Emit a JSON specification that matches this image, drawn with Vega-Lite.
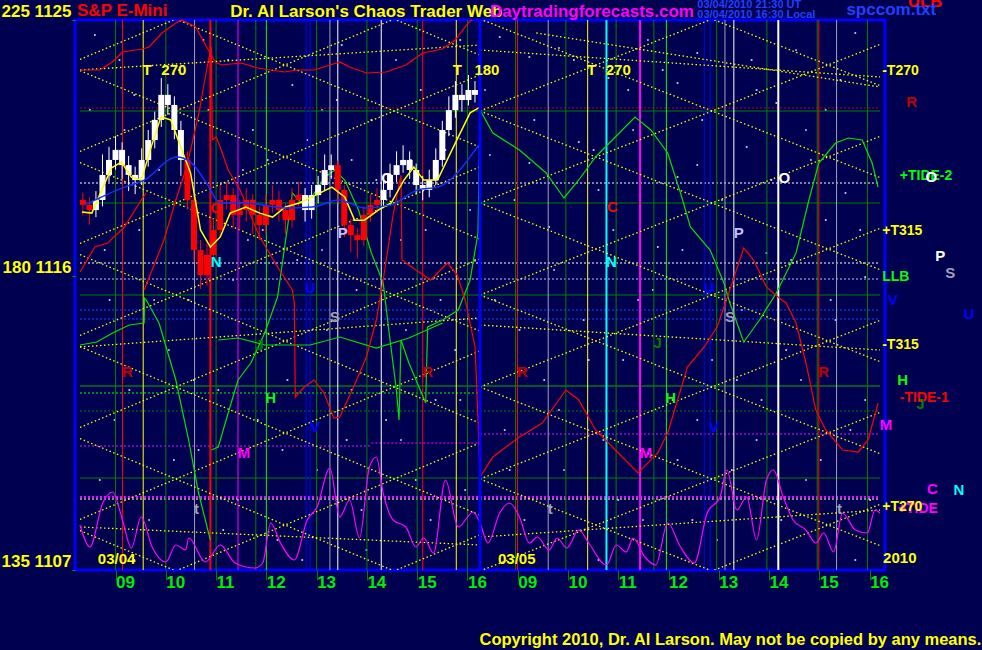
{
"$schema": "https://vega.github.io/schema/vega-lite/v6.json",
"width": 810, "height": 550,
"autosize": {"type": "none"},
"padding": {"left": 75, "top": 20, "right": 97, "bottom": 80},
"background": "#000050",
"config": {"view": {"stroke": "#0000ff", "strokeWidth": 3}, "text": {"font": "Liberation Sans", "fontWeight": "bold"}, "legend": {"disable": true},
 "axisX": {"values": [9,10,11,12,13,14,15,16,16.957,17.957,18.957,19.957,20.957,21.957,22.957,23.957],
    "labelExpr": "(datum.value < 16.5 ? round(datum.value) : round(datum.value - 7.957)) < 10 ? '0' + (datum.value < 16.5 ? round(datum.value) : round(datum.value - 7.957)) : '' + (datum.value < 16.5 ? round(datum.value) : round(datum.value - 7.957))",
    "labelColor": "#00ee00", "labelFont": "Liberation Sans", "labelFontWeight": "bold", "labelFontSize": 17, "labelAlign": "left", "labelBaseline": "top", "labelPadding": -6, "labelDx": 2,
    "tickColor": "#008000", "tickSize": 10, "tickWidth": 1, "domain": false, "grid": false, "labelOverlap": false, "labelFlush": false, "labelBound": false}},
"resolve": {"scale": {"y": "independent"}},
"datasets": {
"stars": [{"t":8.588,"v":535},{"t":9.374,"v":475},{"t":10.749,"v":530},{"t":11.731,"v":440},{"t":12.517,"v":485},{"t":13.499,"v":525},{"t":14.089,"v":450},{"t":15.071,"v":480},{"t":15.857,"v":530},{"t":8.784,"v":320},{"t":9.767,"v":270},{"t":11.338,"v":290},{"t":11.928,"v":340},{"t":13.107,"v":320},{"t":13.696,"v":410},{"t":14.678,"v":330},{"t":15.464,"v":270},{"t":16.053,"v":360},{"t":8.981,"v":150},{"t":10.16,"v":110},{"t":11.142,"v":40},{"t":12.321,"v":120},{"t":12.714,"v":10},{"t":13.892,"v":60},{"t":14.678,"v":130},{"t":15.267,"v":50},{"t":15.857,"v":170},{"t":9.374,"v":10},{"t":10.553,"v":190},{"t":13.696,"v":180},{"t":11.535,"v":400},{"t":9.177,"v":440},{"t":13.107,"v":460},{"t":14.874,"v":410},{"t":16.642,"v":533},{"t":17.232,"v":513},{"t":17.821,"v":522},{"t":18.804,"v":492},{"t":19.197,"v":480},{"t":19.59,"v":530},{"t":20.179,"v":487},{"t":20.572,"v":517},{"t":21.751,"v":480},{"t":22.144,"v":467},{"t":22.536,"v":520},{"t":23.126,"v":460},{"t":23.715,"v":537},{"t":16.446,"v":415},{"t":17.232,"v":407},{"t":18.214,"v":428},{"t":18.607,"v":380},{"t":20.179,"v":393},{"t":20.572,"v":405},{"t":21.554,"v":423},{"t":22.733,"v":440},{"t":23.519,"v":377},{"t":17.625,"v":343},{"t":19.786,"v":323},{"t":21.947,"v":317},{"t":23.126,"v":350},{"t":23.912,"v":293},{"t":17.035,"v":240},{"t":18.411,"v":210},{"t":19.393,"v":270},{"t":20.572,"v":150},{"t":21.358,"v":190},{"t":22.34,"v":220},{"t":23.322,"v":250},{"t":16.839,"v":100},{"t":17.821,"v":160},{"t":19.0,"v":70},{"t":20.179,"v":110},{"t":21.751,"v":130},{"t":22.733,"v":90},{"t":23.715,"v":10},{"t":18.607,"v":10},{"t":20.965,"v":30},{"t":23.912,"v":170},
{"t":8.489,"v":460},{"t":8.686,"v":90},{"t":8.882,"v":270},{"t":9.079,"v":510},{"t":9.275,"v":180},{"t":9.472,"v":340},{"t":9.668,"v":50},{"t":9.865,"v":400},{"t":10.061,"v":220},{"t":10.258,"v":500},{"t":10.454,"v":270},{"t":10.651,"v":120},{"t":10.847,"v":460},{"t":11.044,"v":180},{"t":11.24,"v":510},{"t":11.437,"v":70},{"t":11.633,"v":330},{"t":11.83,"v":150},{"t":12.026,"v":410},{"t":12.222,"v":30},{"t":12.419,"v":190},{"t":12.615,"v":310},{"t":12.812,"v":430},{"t":13.008,"v":100},{"t":13.205,"v":240},{"t":13.401,"v":470},{"t":13.597,"v":130},{"t":13.794,"v":280},{"t":13.99,"v":20},{"t":14.187,"v":390},{"t":14.383,"v":150},{"t":14.58,"v":510},{"t":14.776,"v":240},{"t":14.973,"v":90},{"t":15.169,"v":340},{"t":15.366,"v":170},{"t":15.562,"v":420},{"t":15.758,"v":220},{"t":15.955,"v":80},{"t":16.151,"v":310},
{"t":16.348,"v":480},{"t":16.544,"v":270},{"t":16.741,"v":140},{"t":16.937,"v":370},{"t":17.134,"v":50},{"t":17.33,"v":450},{"t":17.527,"v":190},{"t":17.723,"v":300},{"t":17.92,"v":100},{"t":18.116,"v":510},{"t":18.312,"v":250},{"t":18.509,"v":420},{"t":18.705,"v":130},{"t":18.902,"v":340},{"t":19.098,"v":210},{"t":19.295,"v":440},{"t":19.491,"v":50},{"t":19.688,"v":280},{"t":19.884,"v":500},{"t":20.081,"v":170},{"t":20.277,"v":320},{"t":20.474,"v":50},{"t":20.67,"v":450},{"t":20.866,"v":210},{"t":21.063,"v":370},{"t":21.259,"v":100},{"t":21.456,"v":260},{"t":21.652,"v":510},{"t":21.849,"v":170},{"t":22.045,"v":390},{"t":22.242,"v":50},{"t":22.438,"v":310},{"t":22.635,"v":190},{"t":22.831,"v":410},{"t":23.027,"v":110},{"t":23.224,"v":270},{"t":23.42,"v":490},{"t":23.617,"v":140},{"t":23.813,"v":340},{"t":24.01,"v":70}],
"hsolid": [{"t0":8.293,"t1":24.206,"v":459,"k":"dg"},{"t0":8.293,"t1":24.206,"v":367,"k":"dg"},{"t0":8.293,"t1":24.206,"v":275,"k":"dg"},{"t0":8.293,"t1":24.206,"v":184,"k":"gn"},{"t0":8.293,"t1":24.206,"v":92,"k":"dg"}],
"hdot": [{"t0":8.293,"t1":24.206,"v":462,"k":"dr"},{"t0":8.293,"t1":24.206,"v":387,"k":"wh"},{"t0":8.293,"t1":24.206,"v":307,"k":"wh"},{"t0":8.293,"t1":24.206,"v":291,"k":"lv"},{"t0":8.293,"t1":24.206,"v":260,"k":"bm"},{"t0":8.293,"t1":24.206,"v":251,"k":"bm"},{"t0":8.293,"t1":16.25,"v":177,"k":"bg"},{"t0":8.293,"t1":24.206,"v":159,"k":"dg"},{"t0":8.293,"t1":14.089,"v":124,"k":"mg"},{"t0":14.089,"t1":16.25,"v":127,"k":"mg"},{"t0":16.25,"t1":24.206,"v":136,"k":"mg"},{"t0":8.293,"t1":24.206,"v":71,"k":"wh"}],
"hthick": [{"t0":8.293,"t1":24.206,"v":73,"k":"mg"}],
"verts": [{"t":9,"k":"dg"},{"t":9.138,"k":"rd"},{"t":9.55,"k":"ye"},{"t":10,"k":"dg"},{"t":10.572,"k":"gy"},{"t":11,"k":"dg"},{"t":11.436,"k":"mg"},{"t":11.79,"k":"dg"},{"t":12,"k":"bg"},{"t":12.792,"k":"bl"},{"t":12.871,"k":"bl"},{"t":13,"k":"dg"},{"t":13.264,"k":"gy"},{"t":13.421,"k":"wh"},{"t":14,"k":"dg"},{"t":14.285,"k":"wh"},{"t":15,"k":"dg"},{"t":15.11,"k":"rd"},{"t":15.778,"k":"ye"},{"t":16,"k":"dg"},{"t":16.957,"k":"dg"},{"t":16.996,"k":"rd"},{"t":17.606,"k":"gy"},{"t":17.957,"k":"dg"},{"t":18.391,"k":"ye"},{"t":18.957,"k":"dg"},{"t":19.708,"k":"dg"},{"t":19.957,"k":"bg"},{"t":20.71,"k":"bl"},{"t":20.827,"k":"bl"},{"t":20.957,"k":"dg"},{"t":21.122,"k":"gy"},{"t":21.299,"k":"wh"},{"t":21.957,"k":"dg"},{"t":22.957,"k":"dg"},{"t":22.988,"k":"rd"},{"t":23.342,"k":"gy"},{"t":23.957,"k":"dg"}],
"vthick": [{"t":10.886,"k":"rd"},{"t":18.765,"k":"cy"},{"t":19.433,"k":"mg"},{"t":22.183,"k":"wh"}],
"lattice": [
{"id":"a1","t":8.293,"v":510.6},{"id":"a1","t":16.25,"v":679.2},
{"id":"a2","t":8.293,"v":418.6},{"id":"a2","t":16.25,"v":587.2},
{"id":"a3","t":8.293,"v":326.6},{"id":"a3","t":16.25,"v":495.2},
{"id":"a4","t":8.293,"v":234.6},{"id":"a4","t":16.25,"v":403.2},
{"id":"a5","t":8.293,"v":142.6},{"id":"a5","t":16.25,"v":311.2},
{"id":"a6","t":8.293,"v":50.6},{"id":"a6","t":16.25,"v":219.2},
{"id":"a7","t":8.293,"v":-41.4},{"id":"a7","t":16.25,"v":127.2},
{"id":"a8","t":8.293,"v":-133.4},{"id":"a8","t":16.25,"v":35.2},
{"id":"b0","t":8.293,"v":683.4},{"id":"b0","t":16.25,"v":514.8},
{"id":"b1","t":8.293,"v":591.4},{"id":"b1","t":16.25,"v":422.8},
{"id":"b2","t":8.293,"v":499.4},{"id":"b2","t":16.25,"v":330.8},
{"id":"b3","t":8.293,"v":407.4},{"id":"b3","t":16.25,"v":238.8},
{"id":"b4","t":8.293,"v":315.4},{"id":"b4","t":16.25,"v":146.8},
{"id":"b5","t":8.293,"v":223.4},{"id":"b5","t":16.25,"v":54.8},
{"id":"b6","t":8.293,"v":131.4},{"id":"b6","t":16.25,"v":-37.2},
{"id":"b7","t":8.293,"v":39.4},{"id":"b7","t":16.25,"v":-129.2},
{"id":"c2","t":16.25,"v":459},{"id":"c2","t":24.206,"v":617.6},
{"id":"c3","t":16.25,"v":367},{"id":"c3","t":24.206,"v":525.6},
{"id":"c4","t":16.25,"v":275},{"id":"c4","t":24.206,"v":433.6},
{"id":"c5","t":16.25,"v":183},{"id":"c5","t":24.206,"v":341.6},
{"id":"c6","t":16.25,"v":91},{"id":"c6","t":24.206,"v":249.6},
{"id":"c7","t":16.25,"v":-1},{"id":"c7","t":24.206,"v":157.6},
{"id":"c8","t":16.25,"v":-93},{"id":"c8","t":24.206,"v":65.6},
{"id":"d0","t":16.25,"v":643},{"id":"d0","t":24.206,"v":484.4},
{"id":"d1","t":16.25,"v":551},{"id":"d1","t":24.206,"v":392.4},
{"id":"d2","t":16.25,"v":459},{"id":"d2","t":24.206,"v":300.4},
{"id":"d3","t":16.25,"v":367},{"id":"d3","t":24.206,"v":208.4},
{"id":"d4","t":16.25,"v":275},{"id":"d4","t":24.206,"v":116.4},
{"id":"d5","t":16.25,"v":183},{"id":"d5","t":24.206,"v":24.4},
{"id":"d6","t":16.25,"v":91},{"id":"d6","t":24.206,"v":-67.6},
{"id":"e1","t":8.293,"v":500},{"id":"e1","t":16.25,"v":525},
{"id":"e2","t":16.25,"v":520},{"id":"e2","t":24.206,"v":493},
{"id":"e3","t":17.369,"v":537},{"id":"e3","t":24.206,"v":483},
{"id":"e4","t":8.293,"v":223},{"id":"e4","t":16.25,"v":252},
{"id":"e5","t":16.25,"v":245},{"id":"e5","t":24.206,"v":220},
{"id":"e6","t":8.293,"v":43},{"id":"e6","t":16.25,"v":25},
{"id":"e7","t":16.25,"v":33},{"id":"e7","t":24.206,"v":60}],
"osc": [{"t":8.293,"v":45},{"t":8.489,"v":23},{"t":8.745,"v":67},{"t":8.941,"v":78},{"t":9.138,"v":50},{"t":9.315,"v":22},{"t":9.511,"v":53},{"t":9.727,"v":23},{"t":10.002,"v":8},{"t":10.199,"v":25},{"t":10.395,"v":20},{"t":10.454,"v":32},{"t":10.788,"v":8},{"t":11.083,"v":25},{"t":11.377,"v":7},{"t":11.77,"v":2},{"t":11.928,"v":7},{"t":12.085,"v":47},{"t":12.281,"v":27},{"t":12.556,"v":10},{"t":12.812,"v":50},{"t":13.008,"v":63},{"t":13.263,"v":102},{"t":13.46,"v":53},{"t":13.656,"v":70},{"t":13.853,"v":32},{"t":14.049,"v":103},{"t":14.187,"v":113},{"t":14.324,"v":77},{"t":14.521,"v":50},{"t":14.776,"v":43},{"t":14.973,"v":23},{"t":15.13,"v":32},{"t":15.326,"v":17},{"t":15.562,"v":90},{"t":15.817,"v":43},{"t":16.112,"v":58},
{"t":16.25,"v":47},{"t":16.407,"v":27},{"t":16.642,"v":57},{"t":16.839,"v":67},{"t":17.035,"v":53},{"t":17.232,"v":27},{"t":17.389,"v":33},{"t":17.625,"v":20},{"t":17.782,"v":32},{"t":17.978,"v":22},{"t":18.214,"v":40},{"t":18.411,"v":27},{"t":18.765,"v":5},{"t":18.961,"v":25},{"t":19.157,"v":18},{"t":19.295,"v":32},{"t":19.53,"v":13},{"t":19.747,"v":5},{"t":19.983,"v":47},{"t":20.238,"v":23},{"t":20.513,"v":7},{"t":20.768,"v":57},{"t":21.024,"v":73},{"t":21.161,"v":100},{"t":21.358,"v":60},{"t":21.554,"v":73},{"t":21.751,"v":30},{"t":21.947,"v":90},{"t":22.084,"v":100},{"t":22.281,"v":73},{"t":22.477,"v":50},{"t":22.733,"v":40},{"t":22.929,"v":27},{"t":23.086,"v":37},{"t":23.283,"v":18},{"t":23.46,"v":57},{"t":23.715,"v":40},{"t":23.951,"v":37},{"t":24.108,"v":60},{"t":24.206,"v":57}],
"green": [
{"id":"G1","t":8.293,"v":225},{"id":"G1","t":8.627,"v":228},{"id":"G1","t":8.941,"v":237},{"id":"G1","t":9.275,"v":245},{"id":"G1","t":9.57,"v":247},{"id":"G1","t":9.575,"v":272},{"id":"G1","t":9.609,"v":270},{"id":"G1","t":9.865,"v":247},{"id":"G1","t":10.199,"v":190},{"id":"G1","t":10.454,"v":130},{"id":"G1","t":10.651,"v":77},{"id":"G1","t":10.886,"v":30},
{"id":"G2","t":10.906,"v":120},{"id":"G2","t":11.044,"v":123},{"id":"G2","t":11.24,"v":157},{"id":"G2","t":11.437,"v":190},{"id":"G2","t":11.692,"v":207},{"id":"G2","t":11.967,"v":237},{"id":"G2","t":12.222,"v":273},{"id":"G2","t":12.517,"v":377},{"id":"G2","t":12.772,"v":363},{"id":"G2","t":13.165,"v":393},{"id":"G2","t":13.362,"v":400},{"id":"G2","t":13.558,"v":390},{"id":"G2","t":13.833,"v":360},{"id":"G2","t":14.089,"v":317},{"id":"G2","t":14.324,"v":287},{"id":"G2","t":14.442,"v":237},{"id":"G2","t":14.58,"v":183},{"id":"G2","t":14.639,"v":150},{"id":"G2","t":14.678,"v":230},{"id":"G2","t":14.835,"v":207},{"id":"G2","t":15.169,"v":167},{"id":"G2","t":15.208,"v":243},{"id":"G2","t":15.503,"v":250},{"id":"G2","t":15.817,"v":260},{"id":"G2","t":16.053,"v":290},{"id":"G2","t":16.21,"v":337},{"id":"G2","t":16.25,"v":460},{"id":"G2","t":16.505,"v":437},{"id":"G2","t":17.035,"v":420},{"id":"G2","t":17.566,"v":397},{"id":"G2","t":17.92,"v":372},{"id":"G2","t":18.214,"v":390},{"id":"G2","t":18.548,"v":413},{"id":"G2","t":18.941,"v":433},{"id":"G2","t":19.334,"v":453},{"id":"G2","t":19.648,"v":440},{"id":"G2","t":19.983,"v":417},{"id":"G2","t":20.238,"v":377},{"id":"G2","t":20.434,"v":343},{"id":"G2","t":20.827,"v":320},{"id":"G2","t":21.102,"v":287},{"id":"G2","t":21.22,"v":267},{"id":"G2","t":21.495,"v":228},{"id":"G2","t":21.809,"v":250},{"id":"G2","t":22.144,"v":277},{"id":"G2","t":22.536,"v":317},{"id":"G2","t":22.792,"v":370},{"id":"G2","t":22.988,"v":407},{"id":"G2","t":23.322,"v":427},{"id":"G2","t":23.578,"v":432},{"id":"G2","t":23.853,"v":430},{"id":"G2","t":24.049,"v":407},{"id":"G2","t":24.167,"v":383},
{"id":"G3","t":11.044,"v":230},{"id":"G3","t":11.437,"v":232},{"id":"G3","t":11.967,"v":225},{"id":"G3","t":12.36,"v":225},{"id":"G3","t":12.871,"v":225},{"id":"G3","t":13.46,"v":233},{"id":"G3","t":14.187,"v":222},{"id":"G3","t":14.835,"v":232},{"id":"G3","t":15.503,"v":247}],
"red": [
{"id":"R1","t":8.293,"v":500},{"id":"R1","t":8.686,"v":500},{"id":"R1","t":8.941,"v":508},{"id":"R1","t":9.138,"v":518},{"id":"R1","t":9.531,"v":521},{"id":"R1","t":9.668,"v":523},{"id":"R1","t":9.924,"v":537},{"id":"R1","t":10.199,"v":547},{"id":"R1","t":10.317,"v":550},{"id":"R1","t":10.592,"v":543},{"id":"R1","t":10.847,"v":520},{"id":"R1","t":10.985,"v":508},{"id":"R1","t":11.102,"v":505},{"id":"R1","t":11.495,"v":507},{"id":"R1","t":11.829,"v":502},{"id":"R1","t":12.085,"v":500},{"id":"R1","t":12.36,"v":498},{"id":"R1","t":12.615,"v":500},{"id":"R1","t":12.949,"v":500},{"id":"R1","t":13.263,"v":505},{"id":"R1","t":13.46,"v":508},{"id":"R1","t":13.656,"v":503},{"id":"R1","t":13.99,"v":497},{"id":"R1","t":14.383,"v":498},{"id":"R1","t":14.776,"v":505},{"id":"R1","t":15.11,"v":517},{"id":"R1","t":15.503,"v":521},{"id":"R1","t":15.758,"v":530},{"id":"R1","t":16.014,"v":547},{"id":"R1","t":16.092,"v":550},
{"id":"R2","t":8.293,"v":298},{"id":"R2","t":8.588,"v":323},{"id":"R2","t":8.843,"v":327},{"id":"R2","t":9.177,"v":343},{"id":"R2","t":9.511,"v":370},{"id":"R2","t":9.609,"v":377},
{"id":"R3","t":9.57,"v":280},{"id":"R3","t":9.767,"v":305},{"id":"R3","t":9.963,"v":330},{"id":"R3","t":10.199,"v":370},{"id":"R3","t":10.415,"v":403},{"id":"R3","t":10.651,"v":455},{"id":"R3","t":10.847,"v":510},{"id":"R3","t":10.906,"v":523},{"id":"R3","t":10.926,"v":430},{"id":"R3","t":11.004,"v":433},{"id":"R3","t":11.102,"v":420},{"id":"R3","t":11.24,"v":400},{"id":"R3","t":11.476,"v":380},{"id":"R3","t":11.869,"v":333},{"id":"R3","t":12.261,"v":300},{"id":"R3","t":12.517,"v":280},{"id":"R3","t":12.556,"v":267},{"id":"R3","t":12.576,"v":173},{"id":"R3","t":12.753,"v":183},{"id":"R3","t":12.949,"v":190},{"id":"R3","t":13.146,"v":177},{"id":"R3","t":13.342,"v":152},{"id":"R3","t":13.46,"v":153},{"id":"R3","t":13.735,"v":183},{"id":"R3","t":13.99,"v":213},{"id":"R3","t":14.187,"v":250},{"id":"R3","t":14.324,"v":290},{"id":"R3","t":14.521,"v":355},{"id":"R3","t":14.678,"v":395},{"id":"R3","t":14.698,"v":310},{"id":"R3","t":14.973,"v":300},{"id":"R3","t":15.267,"v":290},{"id":"R3","t":15.601,"v":307},{"id":"R3","t":15.798,"v":295},{"id":"R3","t":15.955,"v":270},{"id":"R3","t":16.151,"v":223},{"id":"R3","t":16.21,"v":150},{"id":"R3","t":16.25,"v":93},{"id":"R3","t":16.505,"v":113},{"id":"R3","t":17.035,"v":133},{"id":"R3","t":17.487,"v":147},{"id":"R3","t":17.959,"v":180},{"id":"R3","t":18.214,"v":170},{"id":"R3","t":18.548,"v":140},{"id":"R3","t":19.0,"v":117},{"id":"R3","t":19.393,"v":97},{"id":"R3","t":19.786,"v":117},{"id":"R3","t":19.983,"v":137},{"id":"R3","t":20.179,"v":170},{"id":"R3","t":20.375,"v":203},{"id":"R3","t":20.709,"v":223},{"id":"R3","t":20.965,"v":243},{"id":"R3","t":21.22,"v":280},{"id":"R3","t":21.495,"v":322},{"id":"R3","t":21.692,"v":310},{"id":"R3","t":21.947,"v":283},{"id":"R3","t":22.202,"v":272},{"id":"R3","t":22.34,"v":267},{"id":"R3","t":22.536,"v":247},{"id":"R3","t":22.733,"v":207},{"id":"R3","t":22.929,"v":160},{"id":"R3","t":23.126,"v":140},{"id":"R3","t":23.46,"v":120},{"id":"R3","t":23.774,"v":118},{"id":"R3","t":23.97,"v":130},{"id":"R3","t":24.167,"v":167}],
"candles": [
{"t":8.35,"o":1119.11,"c":1118.95,"h":1119.35,"l":1118.6,"k":"rd"},
{"t":8.48,"o":1118.95,"c":1118.78,"h":1119.2,"l":1118.3,"k":"rd"},
{"t":8.61,"o":1118.78,"c":1119.11,"h":1119.4,"l":1118.55,"k":"wh"},
{"t":8.74,"o":1119.11,"c":1119.93,"h":1120.6,"l":1118.9,"k":"wh"},
{"t":8.87,"o":1119.93,"c":1120.42,"h":1120.85,"l":1119.7,"k":"wh"},
{"t":9.0,"o":1120.42,"c":1120.75,"h":1121.2,"l":1120.1,"k":"wh"},
{"t":9.13,"o":1120.75,"c":1120.25,"h":1121.0,"l":1119.8,"k":"wh"},
{"t":9.26,"o":1120.25,"c":1119.93,"h":1120.55,"l":1119.4,"k":"wh"},
{"t":9.39,"o":1119.93,"c":1119.76,"h":1120.2,"l":1119.3,"k":"wh"},
{"t":9.52,"o":1119.76,"c":1120.42,"h":1120.8,"l":1119.6,"k":"wh"},
{"t":9.65,"o":1120.42,"c":1121.07,"h":1121.4,"l":1120.2,"k":"wh"},
{"t":9.78,"o":1121.07,"c":1121.73,"h":1122.0,"l":1120.8,"k":"wh"},
{"t":9.91,"o":1121.73,"c":1122.55,"h":1123.1,"l":1121.5,"k":"wh"},
{"t":10.04,"o":1122.55,"c":1122.22,"h":1122.9,"l":1121.9,"k":"wh"},
{"t":10.17,"o":1122.22,"c":1121.4,"h":1122.5,"l":1121.1,"k":"wh"},
{"t":10.3,"o":1121.4,"c":1120.42,"h":1121.7,"l":1119.9,"k":"wh"},
{"t":10.43,"o":1120.42,"c":1119.11,"h":1120.7,"l":1118.8,"k":"rd"},
{"t":10.56,"o":1119.11,"c":1117.47,"h":1119.4,"l":1117.1,"k":"rd"},
{"t":10.69,"o":1117.47,"c":1116.65,"h":1117.8,"l":1116.2,"k":"rd"},
{"t":10.82,"o":1116.65,"c":1117.31,"h":1117.7,"l":1116.3,"k":"rd"},
{"t":10.95,"o":1117.31,"c":1118.13,"h":1118.5,"l":1117.0,"k":"rd"},
{"t":11.08,"o":1118.13,"c":1119.11,"h":1119.6,"l":1117.9,"k":"rd"},
{"t":11.21,"o":1119.11,"c":1119.27,"h":1119.7,"l":1118.8,"k":"rd"},
{"t":11.34,"o":1119.27,"c":1118.62,"h":1119.5,"l":1118.2,"k":"rd"},
{"t":11.47,"o":1118.62,"c":1118.78,"h":1119.1,"l":1118.1,"k":"rd"},
{"t":11.6,"o":1118.78,"c":1119.11,"h":1119.5,"l":1118.4,"k":"rd"},
{"t":11.73,"o":1119.11,"c":1118.62,"h":1119.3,"l":1118.0,"k":"rd"},
{"t":11.86,"o":1118.62,"c":1118.29,"h":1118.9,"l":1117.8,"k":"rd"},
{"t":11.99,"o":1118.29,"c":1118.95,"h":1119.3,"l":1118.0,"k":"rd"},
{"t":12.12,"o":1118.95,"c":1119.11,"h":1119.6,"l":1118.7,"k":"rd"},
{"t":12.25,"o":1119.11,"c":1118.78,"h":1119.4,"l":1118.4,"k":"rd"},
{"t":12.38,"o":1118.78,"c":1118.45,"h":1119.0,"l":1118.0,"k":"rd"},
{"t":12.51,"o":1118.45,"c":1119.11,"h":1119.5,"l":1118.2,"k":"rd"},
{"t":12.64,"o":1119.11,"c":1119.27,"h":1119.7,"l":1118.9,"k":"rd"},
{"t":12.77,"o":1119.27,"c":1118.78,"h":1119.5,"l":1118.4,"k":"wh"},
{"t":12.9,"o":1118.78,"c":1119.27,"h":1119.6,"l":1118.5,"k":"wh"},
{"t":13.03,"o":1119.27,"c":1119.6,"h":1119.9,"l":1119.0,"k":"wh"},
{"t":13.16,"o":1119.6,"c":1120.09,"h":1120.6,"l":1119.4,"k":"wh"},
{"t":13.29,"o":1120.09,"c":1120.25,"h":1120.6,"l":1119.8,"k":"wh"},
{"t":13.42,"o":1120.25,"c":1119.44,"h":1120.4,"l":1119.0,"k":"rd"},
{"t":13.55,"o":1119.44,"c":1118.29,"h":1119.6,"l":1117.9,"k":"rd"},
{"t":13.68,"o":1118.29,"c":1117.96,"h":1118.5,"l":1117.4,"k":"rd"},
{"t":13.81,"o":1117.96,"c":1117.8,"h":1118.2,"l":1117.2,"k":"rd"},
{"t":13.94,"o":1117.8,"c":1118.62,"h":1118.9,"l":1117.6,"k":"rd"},
{"t":14.07,"o":1118.62,"c":1118.95,"h":1119.3,"l":1118.4,"k":"rd"},
{"t":14.2,"o":1118.95,"c":1119.11,"h":1119.5,"l":1118.7,"k":"rd"},
{"t":14.33,"o":1119.11,"c":1119.44,"h":1119.8,"l":1118.9,"k":"wh"},
{"t":14.46,"o":1119.44,"c":1119.93,"h":1120.3,"l":1119.2,"k":"wh"},
{"t":14.59,"o":1119.93,"c":1120.25,"h":1120.7,"l":1119.7,"k":"wh"},
{"t":14.72,"o":1120.25,"c":1120.42,"h":1120.9,"l":1120.0,"k":"wh"},
{"t":14.85,"o":1120.42,"c":1120.09,"h":1120.7,"l":1119.8,"k":"wh"},
{"t":14.98,"o":1120.09,"c":1119.6,"h":1120.3,"l":1119.3,"k":"wh"},
{"t":15.11,"o":1119.6,"c":1119.44,"h":1119.9,"l":1119.1,"k":"wh"},
{"t":15.24,"o":1119.44,"c":1119.76,"h":1120.1,"l":1119.2,"k":"wh"},
{"t":15.37,"o":1119.76,"c":1120.42,"h":1120.8,"l":1119.6,"k":"wh"},
{"t":15.5,"o":1120.42,"c":1121.4,"h":1121.7,"l":1120.2,"k":"wh"},
{"t":15.63,"o":1121.4,"c":1122.05,"h":1122.5,"l":1121.2,"k":"wh"},
{"t":15.76,"o":1122.05,"c":1122.55,"h":1123.0,"l":1121.8,"k":"wh"},
{"t":15.89,"o":1122.55,"c":1122.38,"h":1122.9,"l":1122.0,"k":"wh"},
{"t":16.02,"o":1122.38,"c":1122.71,"h":1123.2,"l":1122.2,"k":"wh"},
{"t":16.15,"o":1122.71,"c":1122.55,"h":1123.0,"l":1122.3,"k":"wh"}],
"maY": [{"t":8.332,"p":1118.72},{"t":8.529,"p":1118.68},{"t":8.725,"p":1119.44},{"t":8.922,"p":1120.16},{"t":9.118,"p":1120.35},{"t":9.315,"p":1119.86},{"t":9.511,"p":1119.76},{"t":9.708,"p":1120.84},{"t":9.904,"p":1121.83},{"t":10.1,"p":1121.73},{"t":10.297,"p":1120.84},{"t":10.493,"p":1119.99},{"t":10.69,"p":1118.13},{"t":10.886,"p":1117.57},{"t":11.083,"p":1117.9},{"t":11.279,"p":1118.68},{"t":11.593,"p":1118.88},{"t":11.869,"p":1118.68},{"t":12.124,"p":1118.55},{"t":12.379,"p":1118.88},{"t":12.654,"p":1119.01},{"t":12.91,"p":1119.21},{"t":13.303,"p":1119.53},{"t":13.558,"p":1119.21},{"t":13.755,"p":1118.45},{"t":13.951,"p":1118.45},{"t":14.226,"p":1118.78},{"t":14.481,"p":1119.01},{"t":14.737,"p":1119.76},{"t":14.933,"p":1120.19},{"t":15.13,"p":1119.76},{"t":15.405,"p":1119.76},{"t":15.719,"p":1120.84},{"t":16.053,"p":1121.96},{"t":16.25,"p":1122.15}],
"maB": [{"t":8.391,"p":1118.95},{"t":9.177,"p":1119.53},{"t":9.57,"p":1119.76},{"t":10.218,"p":1120.52},{"t":10.493,"p":1120.35},{"t":10.808,"p":1119.67},{"t":11.083,"p":1119.01},{"t":11.593,"p":1119.01},{"t":12.379,"p":1118.85},{"t":12.91,"p":1118.88},{"t":13.44,"p":1119.11},{"t":13.951,"p":1118.85},{"t":14.481,"p":1118.95},{"t":15.012,"p":1119.44},{"t":15.405,"p":1119.53},{"t":16.25,"p":1120.97}],
"letters": [{"t":9.629,"v":500,"s":"T","k":"ye"},{"t":10.16,"v":500,"s":"270","k":"ye"},{"t":15.798,"v":500,"s":"T","k":"ye"},{"t":16.387,"v":500,"s":"180","k":"ye"},{"t":18.47,"v":500,"s":"T","k":"ye"},{"t":19.0,"v":500,"s":"270","k":"ye"},{"t":11.004,"v":362,"s":"O","k":"rd"},{"t":11.004,"v":308,"s":"N","k":"cy"},{"t":13.519,"v":337,"s":"P","k":"lv"},{"t":14.403,"v":392,"s":"O","k":"wh"},{"t":12.871,"v":282,"s":"U","k":"bl"},{"t":13.362,"v":253,"s":"S","k":"gy"},{"t":9.236,"v":198,"s":"R","k":"dr"},{"t":15.208,"v":198,"s":"R","k":"dr"},{"t":12.085,"v":172,"s":"H","k":"bg"},{"t":12.969,"v":143,"s":"V","k":"bl"},{"t":11.554,"v":117,"s":"M","k":"mg"},{"t":11.869,"v":225,"s":"J","k":"dg"},{"t":10.611,"v":61,"s":"t","k":"gy"},{"t":18.882,"v":363,"s":"C","k":"rd"},{"t":18.862,"v":308,"s":"N","k":"cy"},{"t":20.807,"v":282,"s":"U","k":"bl"},{"t":21.397,"v":337,"s":"P","k":"lv"},{"t":22.301,"v":392,"s":"O","k":"wh"},{"t":21.22,"v":253,"s":"S","k":"gy"},{"t":19.786,"v":227,"s":"J","k":"dg"},{"t":17.094,"v":198,"s":"R","k":"dr"},{"t":23.086,"v":198,"s":"R","k":"dr"},{"t":20.041,"v":172,"s":"H","k":"bg"},{"t":20.906,"v":143,"s":"V","k":"bl"},{"t":19.55,"v":117,"s":"M","k":"mg"},{"t":17.645,"v":61,"s":"t","k":"gy"},{"t":23.401,"v":61,"s":"t","k":"gy"},{"t":24.835,"v":468,"s":"R","k":"dr"},{"t":25.405,"v":314,"s":"P","k":"wh"},{"t":25.601,"v":297,"s":"S","k":"gy"},{"t":24.462,"v":270,"s":"V","k":"bl"},{"t":25.974,"v":256,"s":"U","k":"bl"},{"t":24.658,"v":190,"s":"H","k":"bg"},{"t":25.012,"v":166,"s":"J","k":"dg"},{"t":24.324,"v":145,"s":"M","k":"mg"},{"t":25.247,"v":81,"s":"C","k":"mg"},{"t":25.778,"v":80,"s":"N","k":"cy"}],
"rlabels": [{"t":24.25,"v":499,"s":"-T270","k":"ye"},{"t":24.6,"v":394,"s":"+TIDE-2","k":"bg"},{"t":24.25,"v":339,"s":"+T315","k":"ye"},{"t":24.25,"v":293,"s":"LLB","k":"bg"},{"t":24.25,"v":225,"s":"-T315","k":"ye"},{"t":24.6,"v":172,"s":"-TIDE-1","k":"rd"},{"t":24.56,"v":61,"s":"+TIDE","k":"mg"},{"t":24.25,"v":63,"s":"+T270","k":"ye"}],
"toplabels": [{"t":25.227,"v":393,"s":"O","k":"wh"}],
"dates": [{"t":9.02,"v":11,"s":"03/04"},{"t":16.98,"v":11,"s":"03/05"},{"t":24.6,"v":12,"s":"2010"}],
"titles": [{"t":8.234,"v":559,"s":"S&P E-Mini","k":"rd"},{"t":11.28,"v":558,"s":"Dr. Al Larson's Chaos Trader Web","k":"ye"},{"t":16.446,"v":558,"s":"Daytradingforecasts.com","k":"mg"},{"t":24.756,"v":568,"s":"ULB","k":"rd"}],
"small": [{"t":20.572,"v":565,"s":"03/04/2010 21:30 UT"},{"t":20.572,"v":555,"s":"03/04/2010 16:30 Local"}],
"spc": [{"t":23.538,"v":560,"s":"spccom.txt"}],
"copy": [{"t":16.24,"v":-70,"s":"Copyright 2010, Dr. Al Larson. May not be copied by any means."}]
},
"layer": [
{"data": {"name": "stars"}, "mark": {"type": "point", "shape": "square", "filled": true, "size": 3, "color": "#ffffff", "opacity": 0.85},
 "encoding": {"x": {"field": "t", "type": "quantitative", "title": null, "scale": {"domain": [8.293, 24.206], "nice": false, "zero": false}},
  "y": {"field": "v", "type": "quantitative", "scale": {"domain": [0, 550], "nice": false, "zero": false}, "axis": null}}},
{"data": {"name": "hsolid"}, "mark": {"type": "rule", "strokeWidth": 1},
 "encoding": {"x": {"field": "t0", "type": "quantitative", "title": null, "scale": {"domain": [8.293, 24.206], "nice": false, "zero": false}}, "x2": {"field": "t1"},
  "y": {"field": "v", "type": "quantitative", "scale": {"domain": [0, 550], "nice": false, "zero": false}, "axis": null},
  "color": {"field": "k", "type": "nominal", "scale": {"domain": ["dg","bg","gn","rd","dr","gy","wh","ye","mg","cy","bl","lv","bm"], "range": ["#008000","#00ff00","#00b000","#ff0000","#c00000","#a0a0b8","#ffffff","#ffff00","#ff00ff","#00ffff","#0000ff","#c0c0ff","#2040ff"]}, "legend": null}}},
{"data": {"name": "hdot"}, "mark": {"type": "rule", "strokeWidth": 1, "strokeDash": [2, 2]},
 "encoding": {"x": {"field": "t0", "type": "quantitative", "title": null, "scale": {"domain": [8.293, 24.206], "nice": false, "zero": false}}, "x2": {"field": "t1"},
  "y": {"field": "v", "type": "quantitative", "scale": {"domain": [0, 550], "nice": false, "zero": false}, "axis": null},
  "color": {"field": "k", "type": "nominal", "scale": {"domain": ["dg","bg","gn","rd","dr","gy","wh","ye","mg","cy","bl","lv","bm"], "range": ["#008000","#00ff00","#00b000","#ff0000","#c00000","#a0a0b8","#ffffff","#ffff00","#ff00ff","#00ffff","#0000ff","#c0c0ff","#2040ff"]}, "legend": null}}},
{"data": {"name": "hthick"}, "mark": {"type": "rule", "strokeWidth": 2, "strokeDash": [2, 2]},
 "encoding": {"x": {"field": "t0", "type": "quantitative", "title": null, "scale": {"domain": [8.293, 24.206], "nice": false, "zero": false}}, "x2": {"field": "t1"},
  "y": {"field": "v", "type": "quantitative", "scale": {"domain": [0, 550], "nice": false, "zero": false}, "axis": null},
  "color": {"field": "k", "type": "nominal", "scale": {"domain": ["dg","bg","gn","rd","dr","gy","wh","ye","mg","cy","bl","lv","bm"], "range": ["#008000","#00ff00","#00b000","#ff0000","#c00000","#a0a0b8","#ffffff","#ffff00","#ff00ff","#00ffff","#0000ff","#c0c0ff","#2040ff"]}, "legend": null}}},
{"data": {"name": "verts"}, "mark": {"type": "rule", "strokeWidth": 1},
 "encoding": {"x": {"field": "t", "type": "quantitative", "title": null, "scale": {"domain": [8.293, 24.206], "nice": false, "zero": false}},
  "color": {"field": "k", "type": "nominal", "scale": {"domain": ["dg","bg","gn","rd","dr","gy","wh","ye","mg","cy","bl","lv","bm"], "range": ["#008000","#00ff00","#00b000","#ff0000","#c00000","#a0a0b8","#ffffff","#ffff00","#ff00ff","#00ffff","#0000ff","#c0c0ff","#2040ff"]}, "legend": null}}},
{"data": {"name": "vthick"}, "mark": {"type": "rule", "strokeWidth": 2},
 "encoding": {"x": {"field": "t", "type": "quantitative", "title": null, "scale": {"domain": [8.293, 24.206], "nice": false, "zero": false}},
  "color": {"field": "k", "type": "nominal", "scale": {"domain": ["dg","bg","gn","rd","dr","gy","wh","ye","mg","cy","bl","lv","bm"], "range": ["#008000","#00ff00","#00b000","#ff0000","#c00000","#a0a0b8","#ffffff","#ffff00","#ff00ff","#00ffff","#0000ff","#c0c0ff","#2040ff"]}, "legend": null}}},
{"data": {"name": "lattice"}, "mark": {"type": "line", "color": "#ffff00", "strokeWidth": 1.3, "strokeDash": [1.5, 2.5], "clip": true},
 "encoding": {"x": {"field": "t", "type": "quantitative", "title": null, "scale": {"domain": [8.293, 24.206], "nice": false, "zero": false}},
  "y": {"field": "v", "type": "quantitative", "scale": {"domain": [0, 550], "nice": false, "zero": false}, "axis": null},
  "detail": {"field": "id", "type": "nominal"}}},
{"data": {"name": "osc"}, "mark": {"type": "line", "color": "#ff00ff", "strokeWidth": 1.2, "interpolate": "monotone"},
 "encoding": {"x": {"field": "t", "type": "quantitative", "title": null, "scale": {"domain": [8.293, 24.206], "nice": false, "zero": false}},
  "y": {"field": "v", "type": "quantitative", "scale": {"domain": [0, 550], "nice": false, "zero": false}, "axis": null}}},
{"data": {"name": "green"}, "mark": {"type": "line", "color": "#00e000", "strokeWidth": 1.2},
 "encoding": {"x": {"field": "t", "type": "quantitative", "title": null, "scale": {"domain": [8.293, 24.206], "nice": false, "zero": false}},
  "y": {"field": "v", "type": "quantitative", "scale": {"domain": [0, 550], "nice": false, "zero": false}, "axis": null},
  "detail": {"field": "id", "type": "nominal"}}},
{"data": {"name": "red"}, "mark": {"type": "line", "color": "#ff0000", "strokeWidth": 1.2},
 "encoding": {"x": {"field": "t", "type": "quantitative", "title": null, "scale": {"domain": [8.293, 24.206], "nice": false, "zero": false}},
  "y": {"field": "v", "type": "quantitative", "scale": {"domain": [0, 550], "nice": false, "zero": false}, "axis": null},
  "detail": {"field": "id", "type": "nominal"}}},
{"data": {"name": "candles"}, "mark": {"type": "rule", "strokeWidth": 1},
 "encoding": {"x": {"field": "t", "type": "quantitative", "title": null, "scale": {"domain": [8.293, 24.206], "nice": false, "zero": false}},
  "y": {"field": "l", "type": "quantitative", "scale": {"domain": [1107, 1125], "nice": false, "zero": false},
   "axis": {"values": [1107, 1116.62, 1125], "labelExpr": "datum.value > 1124 ? '225 1125' : datum.value < 1108 ? '135 1107' : '180 1116'", "labelColor": "#ffff00", "labelFont": "Liberation Sans", "labelFontWeight": "bold", "labelFontSize": 17, "labelBaseline": "bottom", "labelPadding": 1, "tickColor": "#00a000", "tickSize": 3, "domain": false, "grid": false, "title": null, "labelFlush": false, "labelOverlap": false, "labelBound": false}},
  "y2": {"field": "h"},
  "color": {"field": "k", "type": "nominal", "scale": {"domain": ["dg","bg","gn","rd","dr","gy","wh","ye","mg","cy","bl","lv","bm"], "range": ["#008000","#00ff00","#00b000","#ff0000","#c00000","#a0a0b8","#ffffff","#ffff00","#ff00ff","#00ffff","#0000ff","#c0c0ff","#2040ff"]}, "legend": null}}},
{"data": {"name": "candles"}, "mark": {"type": "bar", "size": 6},
 "encoding": {"x": {"field": "t", "type": "quantitative", "title": null, "scale": {"domain": [8.293, 24.206], "nice": false, "zero": false}},
  "y": {"field": "o", "type": "quantitative", "scale": {"domain": [1107, 1125], "nice": false, "zero": false}, "axis": null},
  "y2": {"field": "c"},
  "color": {"field": "k", "type": "nominal", "scale": {"domain": ["dg","bg","gn","rd","dr","gy","wh","ye","mg","cy","bl","lv","bm"], "range": ["#008000","#00ff00","#00b000","#ff0000","#c00000","#a0a0b8","#ffffff","#ffff00","#ff00ff","#00ffff","#0000ff","#c0c0ff","#2040ff"]}, "legend": null}}},
{"data": {"name": "maY"}, "mark": {"type": "line", "color": "#ffff00", "strokeWidth": 1.5},
 "encoding": {"x": {"field": "t", "type": "quantitative", "title": null, "scale": {"domain": [8.293, 24.206], "nice": false, "zero": false}},
  "y": {"field": "p", "type": "quantitative", "scale": {"domain": [1107, 1125], "nice": false, "zero": false}, "axis": null}}},
{"data": {"name": "maB"}, "mark": {"type": "line", "color": "#1030ff", "strokeWidth": 1.5, "interpolate": "monotone"},
 "encoding": {"x": {"field": "t", "type": "quantitative", "title": null, "scale": {"domain": [8.293, 24.206], "nice": false, "zero": false}},
  "y": {"field": "p", "type": "quantitative", "scale": {"domain": [1107, 1125], "nice": false, "zero": false}, "axis": null}}},
{"data": {"values": [{"t": 16.25}]}, "mark": {"type": "rule", "color": "#0000ff", "strokeWidth": 3},
 "encoding": {"x": {"field": "t", "type": "quantitative", "title": null, "scale": {"domain": [8.293, 24.206], "nice": false, "zero": false}}}},
{"data": {"name": "rlabels"}, "mark": {"type": "text", "fontSize": 14, "fontWeight": "bold", "align": "left", "baseline": "middle"},
 "encoding": {"x": {"field": "t", "type": "quantitative", "title": null, "scale": {"domain": [8.293, 24.206], "nice": false, "zero": false}},
  "y": {"field": "v", "type": "quantitative", "scale": {"domain": [0, 550], "nice": false, "zero": false}, "axis": null},
  "text": {"field": "s"},
  "color": {"field": "k", "type": "nominal", "scale": {"domain": ["dg","bg","gn","rd","dr","gy","wh","ye","mg","cy","bl","lv","bm"], "range": ["#008000","#00ff00","#00b000","#ff0000","#c00000","#a0a0b8","#ffffff","#ffff00","#ff00ff","#00ffff","#0000ff","#c0c0ff","#2040ff"]}, "legend": null}}},
{"data": {"name": "letters"}, "mark": {"type": "text", "fontSize": 15, "fontWeight": "bold", "align": "center", "baseline": "middle"},
 "encoding": {"x": {"field": "t", "type": "quantitative", "title": null, "scale": {"domain": [8.293, 24.206], "nice": false, "zero": false}},
  "y": {"field": "v", "type": "quantitative", "scale": {"domain": [0, 550], "nice": false, "zero": false}, "axis": null},
  "text": {"field": "s"},
  "color": {"field": "k", "type": "nominal", "scale": {"domain": ["dg","bg","gn","rd","dr","gy","wh","ye","mg","cy","bl","lv","bm"], "range": ["#008000","#00ff00","#00b000","#ff0000","#c00000","#a0a0b8","#ffffff","#ffff00","#ff00ff","#00ffff","#0000ff","#c0c0ff","#2040ff"]}, "legend": null}}},
{"data": {"name": "toplabels"}, "mark": {"type": "text", "fontSize": 15, "fontWeight": "bold", "align": "center", "baseline": "middle"},
 "encoding": {"x": {"field": "t", "type": "quantitative", "title": null, "scale": {"domain": [8.293, 24.206], "nice": false, "zero": false}},
  "y": {"field": "v", "type": "quantitative", "scale": {"domain": [0, 550], "nice": false, "zero": false}, "axis": null},
  "text": {"field": "s"},
  "color": {"field": "k", "type": "nominal", "scale": {"domain": ["dg","bg","gn","rd","dr","gy","wh","ye","mg","cy","bl","lv","bm"], "range": ["#008000","#00ff00","#00b000","#ff0000","#c00000","#a0a0b8","#ffffff","#ffff00","#ff00ff","#00ffff","#0000ff","#c0c0ff","#2040ff"]}, "legend": null}}},
{"data": {"name": "dates"}, "mark": {"type": "text", "fontSize": 15, "fontWeight": "bold", "align": "center", "baseline": "middle", "color": "#ffff00"},
 "encoding": {"x": {"field": "t", "type": "quantitative", "title": null, "scale": {"domain": [8.293, 24.206], "nice": false, "zero": false}},
  "y": {"field": "v", "type": "quantitative", "scale": {"domain": [0, 550], "nice": false, "zero": false}, "axis": null},
  "text": {"field": "s"}}},
{"data": {"name": "titles"}, "mark": {"type": "text", "fontSize": 17, "fontWeight": "bold", "align": "left", "baseline": "middle"},
 "encoding": {"x": {"field": "t", "type": "quantitative", "title": null, "scale": {"domain": [8.293, 24.206], "nice": false, "zero": false}},
  "y": {"field": "v", "type": "quantitative", "scale": {"domain": [0, 550], "nice": false, "zero": false}, "axis": null},
  "text": {"field": "s"},
  "color": {"field": "k", "type": "nominal", "scale": {"domain": ["dg","bg","gn","rd","dr","gy","wh","ye","mg","cy","bl","lv","bm"], "range": ["#008000","#00ff00","#00b000","#ff0000","#c00000","#a0a0b8","#ffffff","#ffff00","#ff00ff","#00ffff","#0000ff","#c0c0ff","#2040ff"]}, "legend": null}}},
{"data": {"name": "small"}, "mark": {"type": "text", "fontSize": 11, "fontWeight": "bold", "align": "left", "baseline": "middle", "color": "#2040ff"},
 "encoding": {"x": {"field": "t", "type": "quantitative", "title": null, "scale": {"domain": [8.293, 24.206], "nice": false, "zero": false}},
  "y": {"field": "v", "type": "quantitative", "scale": {"domain": [0, 550], "nice": false, "zero": false}, "axis": null},
  "text": {"field": "s"}}},
{"data": {"name": "spc"}, "mark": {"type": "text", "fontSize": 17, "fontWeight": "bold", "align": "left", "baseline": "middle", "color": "#2040ff"},
 "encoding": {"x": {"field": "t", "type": "quantitative", "title": null, "scale": {"domain": [8.293, 24.206], "nice": false, "zero": false}},
  "y": {"field": "v", "type": "quantitative", "scale": {"domain": [0, 550], "nice": false, "zero": false}, "axis": null},
  "text": {"field": "s"}}},
{"data": {"name": "copy"}, "mark": {"type": "text", "fontSize": 16.5, "fontWeight": "bold", "align": "left", "baseline": "middle", "color": "#ffff00"},
 "encoding": {"x": {"field": "t", "type": "quantitative", "title": null, "scale": {"domain": [8.293, 24.206], "nice": false, "zero": false}},
  "y": {"field": "v", "type": "quantitative", "scale": {"domain": [0, 550], "nice": false, "zero": false}, "axis": null},
  "text": {"field": "s"}}}
]
}
